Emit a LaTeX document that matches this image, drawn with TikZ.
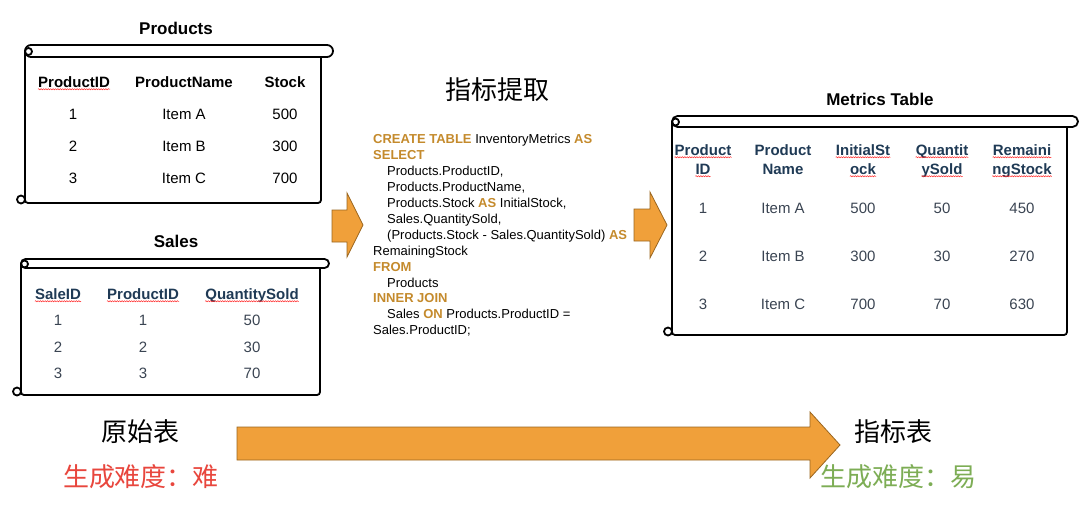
\documentclass[tikz,border=0pt]{standalone}
\usepackage{fontspec}
\setmainfont{Liberation Sans}
\newfontfamily\cjkfont{Noto Sans CJK SC}
\usetikzlibrary{decorations.pathmorphing}

\definecolor{arroworange}{HTML}{F0A03A}
\definecolor{arrowedge}{HTML}{9A6620}
\definecolor{kwgold}{HTML}{C48A2C}
\definecolor{hdrnavy}{HTML}{1F3A55}
\definecolor{cellslate}{HTML}{3A4452}
\definecolor{hardred}{HTML}{E8463D}
\definecolor{easygreen}{HTML}{7DAD55}

\newcommand{\kw}[1]{{\bfseries\color{kwgold}#1}}
% scroll frame: x0, band top, body right, bottom, band radius
\newcommand{\scrollbox}[5]{%
  \draw[scrollline, rounded corners=3pt] (#1,#2+#5) -- (#1,#4) -- (#3,#4) -- (#3,#2+2*#5);
  \draw[scrollline, rounded corners=#5pt] (#1,#2+2*#5) -- (#1,#2) -- (#3+2*#5,#2) -- (#3+2*#5,#2+2*#5) -- cycle;
  \draw[scrollline] (#1+3.5,#2+#5+0.5) circle (3.5pt);
  \draw[scrollline] (#1-4,#4-3.5) circle (4pt);
}

\tikzset{
  scrollline/.style={draw=black, line width=1.8pt},
  title/.style={font=\fontsize{17}{20}\selectfont\bfseries},
  hcell/.style={inner sep=0pt, text height=10.5pt, text depth=0pt, font=\fontsize{15}{18}\selectfont\bfseries},
  cell/.style={inner sep=0pt, text height=10.5pt, text depth=0pt, font=\fontsize{15}{18}\selectfont},
  spell/.style={draw=red!85, line width=0.5pt, decorate, decoration={snake, amplitude=0.6pt, segment length=2.4pt}},
  blockarrow/.style={fill=arroworange, draw=arrowedge, line width=0.8pt, line join=miter},
  cjklabel/.style={font=\cjkfont\fontsize{26}{30}\selectfont},
  sqltext/.style={inner sep=0pt, align=left, font=\fontsize{13}{15.9}\selectfont}
}

\begin{document}
\begin{tikzpicture}[x=1pt, y=-1pt]
  \useasboundingbox (0,0) rectangle (1080,511);

  % Table Products
  \node[title] (ptitle) at (176,28) {Products};
  \scrollbox{25}{45}{321}{203}{6}
  \node[hcell] (p-h1) at (74,82) {ProductID};
  \node[hcell] (p-h2) at (184,82) {ProductName};
  \node[hcell] (p-h3) at (285,82) {Stock};
  \draw[spell] ([yshift=-2pt]p-h1.base west) -- ([yshift=-2pt]p-h1.base east);
  \foreach \row/\id/\name/\stock in {1/1/Item A/500, 2/2/Item B/300, 3/3/Item C/700}{
    \node[cell] (p-\row-1) at (73,82+32*\row) {\id};
    \node[cell] (p-\row-2) at (184,82+32*\row) {\name};
    \node[cell] (p-\row-3) at (285,82+32*\row) {\stock};
  }

  % Table Sales
  \node[title] (stitle) at (176,241) {Sales};
  \scrollbox{21}{259}{320}{395}{4.5}
  \node[hcell, text=hdrnavy] (s-h1) at (58,294) {SaleID};
  \node[hcell, text=hdrnavy] (s-h2) at (143,294) {ProductID};
  \node[hcell, text=hdrnavy] (s-h3) at (252,294) {QuantitySold};
  \foreach \k in {1,2,3}{
    \draw[spell] ([yshift=-2pt]s-h\k.base west) -- ([yshift=-2pt]s-h\k.base east);
  }
  \foreach \row/\sold in {1/50, 2/30, 3/70}{
    \node[cell, text=cellslate] (s-\row-1) at (58,294+26.5*\row) {\row};
    \node[cell, text=cellslate] (s-\row-2) at (143,294+26.5*\row) {\row};
    \node[cell, text=cellslate] (s-\row-3) at (252,294+26.5*\row) {\sold};
  }

  % Requete SQL
  \node[cjklabel] (extract) at (497,90) {指标提取};
  \node[sqltext, anchor=base west] (sql) at (373,334.7) {%
    \kw{CREATE TABLE} InventoryMetrics \kw{AS}\\
    \kw{SELECT}\\
    \hspace*{14pt}Products.ProductID,\\
    \hspace*{14pt}Products.ProductName,\\
    \hspace*{14pt}Products.Stock \kw{AS} InitialStock,\\
    \hspace*{14pt}Sales.QuantitySold,\\
    \hspace*{14pt}(Products.Stock - Sales.QuantitySold) \kw{AS}\\
    RemainingStock\\
    \kw{FROM}\\
    \hspace*{14pt}Products\\
    \kw{INNER JOIN}\\
    \hspace*{14pt}Sales \kw{ON} Products.ProductID =\\
    Sales.ProductID;};

  % Fleches
  \draw[blockarrow] (332,210) -- (347,210) -- (347,193) -- (363,225) -- (347,257) -- (347,242) -- (332,242) -- cycle;
  \draw[blockarrow] (634,209) -- (650,209) -- (650,192) -- (667,225) -- (650,258) -- (650,241) -- (634,241) -- cycle;

  % Table Metrics
  \node[title] (mtitle) at (880,99) {Metrics Table};
  \scrollbox{672}{116}{1067}{335}{5.5}
  \foreach \k/\cx/\la/\lb in {1/703/Product/ID, 2/783/Product/Name, 3/863/InitialSt/ock, 4/942/Quantit/ySold, 5/1022/Remaini/ngStock}{
    \node[hcell, text=hdrnavy] (m-h\k a) at (\cx,150) {\la};
    \node[hcell, text=hdrnavy] (m-h\k b) at (\cx,169) {\lb};
    \ifnum\k=2\else
      \draw[spell] ([yshift=-2pt]m-h\k a.base west) -- ([yshift=-2pt]m-h\k a.base east);
      \draw[spell] ([yshift=-2pt]m-h\k b.base west) -- ([yshift=-2pt]m-h\k b.base east);
    \fi
  }
  \foreach \row/\name/\init/\sold/\rest in {1/Item A/500/50/450, 2/Item B/300/30/270, 3/Item C/700/70/630}{
    \node[cell, text=cellslate] (m-\row-1) at (703,160+48*\row) {\row};
    \node[cell, text=cellslate] (m-\row-2) at (783,160+48*\row) {\name};
    \node[cell, text=cellslate] (m-\row-3) at (863,160+48*\row) {\init};
    \node[cell, text=cellslate] (m-\row-4) at (942,160+48*\row) {\sold};
    \node[cell, text=cellslate] (m-\row-5) at (1022,160+48*\row) {\rest};
  }

  % Bas : difficulte
  \node[cjklabel] (raw) at (140,432) {原始表};
  \node[cjklabel, text=hardred] (rawhard) at (141,477) {生成难度：难};
  \node[cjklabel] (metric) at (893,432) {指标表};
  \node[cjklabel, text=easygreen] (metriceasy) at (898,477) {生成难度：易};
  \draw[blockarrow] (237,427) -- (810,427) -- (810,412) -- (840,445) -- (810,478) -- (810,460) -- (237,460) -- cycle;
\end{tikzpicture}
\end{document}
